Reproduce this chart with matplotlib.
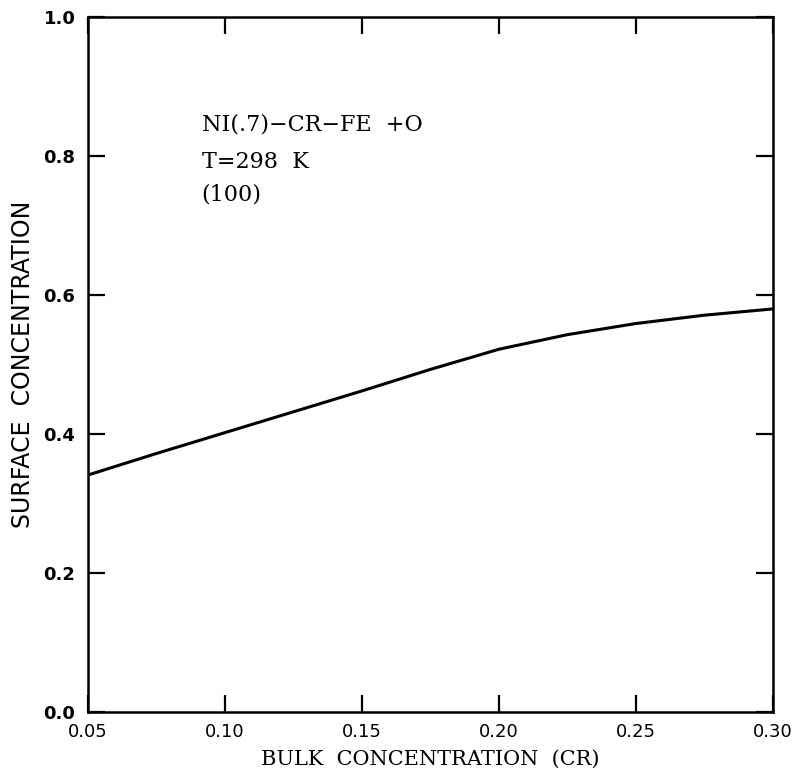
import matplotlib
matplotlib.use('Agg')
import matplotlib.pyplot as plt

# curve
bulk_cr = [0.05, 0.075, 0.10, 0.125, 0.15, 0.175, 0.20, 0.225, 0.25, 0.275, 0.30]
surface_cr = [0.341, 0.372, 0.402, 0.432, 0.462, 0.493, 0.522, 0.543, 0.559, 0.571, 0.580]

x_ticks = [0.05, 0.10, 0.15, 0.20, 0.25, 0.30]
x_tick_labels = ['0.05', '0.10', '0.15', '0.20', '0.25', '0.30']
y_ticks = [0.0, 0.2, 0.4, 0.6, 0.8, 1.0]
y_tick_labels = ['0.0', '0.2', '0.4', '0.6', '0.8', '1.0']

annot_lines = ['NI(.7)\u2212CR\u2212FE  +O', 'T=298  K', '(100)']
annot_y = [0.845, 0.791, 0.744]

fig = plt.figure(figsize=(8.05, 7.75), dpi=100)
ax = fig.add_axes([0.1093, 0.0813, 0.8509, 0.8967])

ax.plot(bulk_cr, surface_cr, color='black', linewidth=2.2)

ax.set_xlim(0.05, 0.30)
ax.set_ylim(0.0, 1.0)

ax.set_xticks(x_ticks)
ax.set_xticklabels(x_tick_labels, fontsize=13, family='DejaVu Sans')
ax.set_yticks(y_ticks)
ax.set_yticklabels(y_tick_labels, fontsize=13, fontweight='bold', family='DejaVu Sans')

ax.tick_params(axis='both', direction='in', length=12, width=1.6,
               top=True, right=True)
ax.tick_params(axis='x', pad=8)
ax.tick_params(axis='y', pad=9)

for sp in ax.spines.values():
    sp.set_linewidth(1.8)

ax.set_xlabel('BULK  CONCENTRATION  (CR)', fontsize=15, family='DejaVu Serif', labelpad=6)
ax.set_ylabel('SURFACE  CONCENTRATION', fontsize=17, family='DejaVu Sans', labelpad=6)

# annotation block, upper left
for line, yy in zip(annot_lines, annot_y):
    ax.text(0.166, yy, line, transform=ax.transAxes,
            fontsize=16, family='DejaVu Serif', va='center', ha='left')

fig.savefig('out.png', dpi=100)
